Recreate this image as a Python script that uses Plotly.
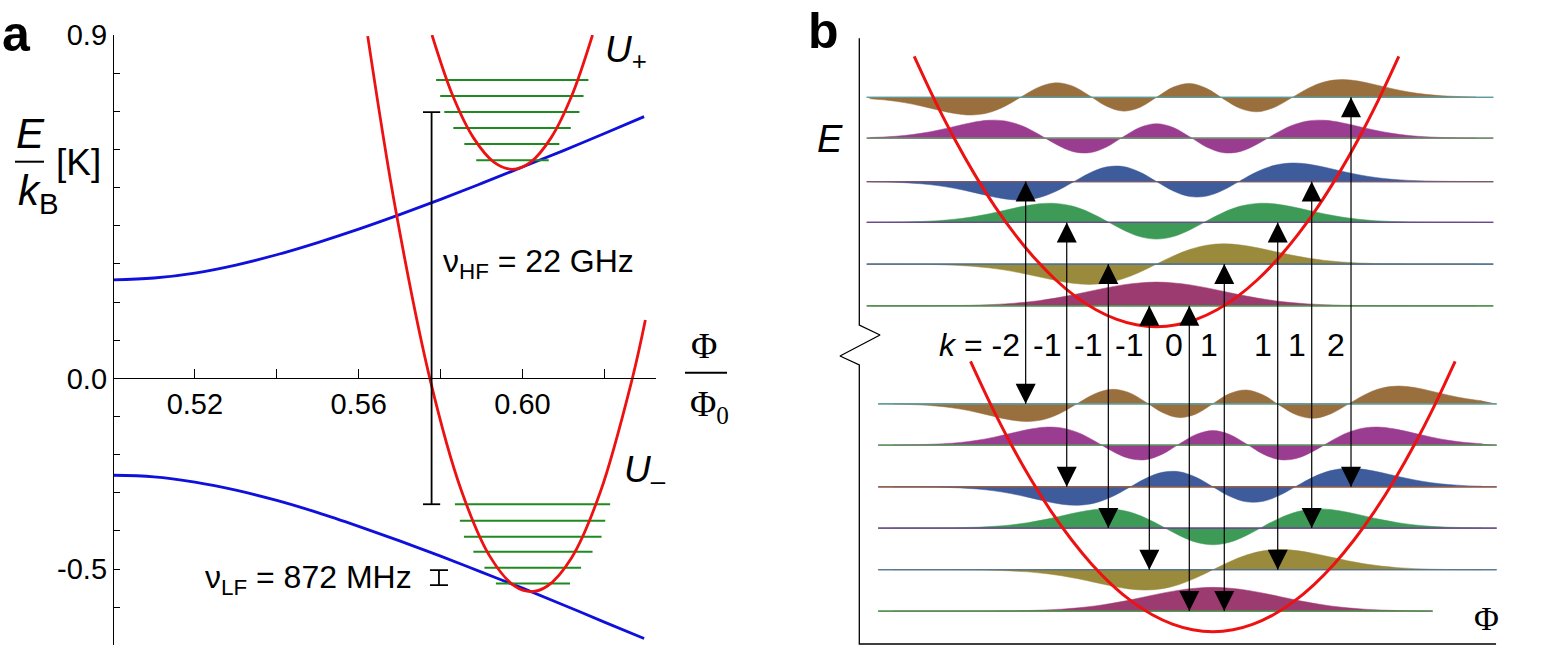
import plotly.graph_objects as go

# ================= Panel a : energy diagram =================
phi_blue = [0.50, 0.51, 0.52, 0.53, 0.54, 0.55, 0.56, 0.57, 0.58, 0.59, 0.60, 0.61, 0.62, 0.6297]
e_blue_upper = [0.258, 0.263, 0.276, 0.297, 0.324, 0.356, 0.391, 0.429, 0.469, 0.511, 0.554, 0.597, 0.642, 0.686]
e_blue_lower = [-0.254, -0.258, -0.272, -0.293, -0.320, -0.352, -0.388, -0.426, -0.466, -0.508, -0.550, -0.594, -0.639, -0.682]

phi_u_plus = [0.5779, 0.5830, 0.5880, 0.5930, 0.5975, 0.6020, 0.6070, 0.6120, 0.6171]
e_u_plus = [0.900, 0.740, 0.631, 0.567, 0.548, 0.567, 0.631, 0.740, 0.900]
phi_u_minus = [0.5622, 0.5690, 0.5775, 0.5850, 0.5920, 0.5980, 0.6021, 0.6060, 0.6120, 0.6190, 0.6268, 0.6300]
e_u_minus = [0.897, 0.443, -0.006, -0.292, -0.466, -0.544, -0.559, -0.545, -0.470, -0.298, -0.001, 0.153]

lev_plus_e = [0.572, 0.614, 0.656, 0.698, 0.740, 0.782]
lev_plus_left = [0.5887, 0.5858, 0.5831, 0.5809, 0.5799, 0.5789]
lev_plus_right = [0.6064, 0.6090, 0.6118, 0.6139, 0.6149, 0.6161]
lev_minus_e = [-0.538, -0.4965, -0.4545, -0.415, -0.373, -0.330]
lev_minus_left = [0.5935, 0.5907, 0.5880, 0.5857, 0.5847, 0.5835]
lev_minus_right = [0.6116, 0.6143, 0.6171, 0.6193, 0.6202, 0.6214]

hf_bar = {"phi": 0.5778, "e_low": -0.330, "e_high": 0.698}
lf_bar = {"phi": 0.5796, "e_low": -0.5418, "e_high": -0.5025}

x_major = [0.52, 0.56, 0.60]
x_minor = [0.54, 0.58, 0.62]
y_major = [-0.5, 0.0, 0.9]
y_minor = [-0.7, -0.6, -0.4, -0.3, -0.2, -0.1, 0.1, 0.2, 0.3, 0.4, 0.5, 0.6, 0.7, 0.8]

# ================= Panel b : wavefunctions =================
u_grid = [0, 0.25, 0.5, 0.75, 1.0, 1.25, 1.5, 1.75, 2.0, 2.25, 2.5, 2.75, 3.0, 3.25, 3.5, 3.75, 4.0, 4.25, 4.5, 4.75]
psi_amp = [
    [23.7, 22.9, 20.9, 17.9, 14.4, 10.8, 7.7, 5.1, 3.2, 1.9, 1.0, 0.5, 0.26, 0.12, 0.05, 0.02, 0, 0, 0, 0],
    [0, 8.11, 14.76, 18.94, 20.29, 19.15, 16.29, 12.66, 9.06, 5.99, 3.68, 2.10, 1.12, 0.55, 0.26, 0.11, 0.05, 0.02, 0, 0],
    [-16.73, -14.19, -7.38, 1.58, 10.15, 16.28, 19.01, 18.55, 15.85, 12.15, 8.45, 5.39, 3.16, 1.71, 0.86, 0.40, 0.17, 0.07, 0.03, 0],
    [0, -9.52, -15.07, -14.50, -8.29, 0.98, 9.98, 16.16, 18.49, 17.42, 14.26, 10.38, 6.83, 4.09, 2.25, 1.14, 0.53, 0.23, 0.09, 0.03],
    [14.49, 10.61, 1.07, -9.06, -14.65, -13.23, -5.88, 3.93, 12.42, 17.20, 17.88, 15.52, 11.75, 7.92, 4.82, 2.67, 1.35, 0.63, 0.27, 0.11],
    [0, 10.19, 13.82, 8.67, -1.85, -11.33, -14.50, -10.10, -0.83, 8.89, 15.52, 17.71, 16.19, 12.62, 8.66, 5.31, 2.94, 1.49, 0.69, 0.29],
]
upper_levels = [8.11, 9.11, 10.11, 11.09, 12.13, 13.11]
lower_levels = [0.79, 1.78, 2.78, 3.77, 4.77, 5.76]
upper_center = 4.416
lower_center = 5.253
upper_well_min = 7.61
lower_well_min = 0.295

pot_u = [-3.6, -3.3, -3.0, -2.7, -2.4, -2.1, -1.8, -1.5, -1.2, -0.9, -0.6, -0.3, 0.0,
         0.3, 0.6, 0.9, 1.2, 1.5, 1.8, 2.1, 2.4, 2.7, 3.0, 3.3, 3.6]
pot_e = [6.48, 5.445, 4.5, 3.645, 2.88, 2.205, 1.62, 1.125, 0.72, 0.405, 0.18, 0.045, 0.0,
         0.045, 0.18, 0.405, 0.72, 1.125, 1.62, 2.205, 2.88, 3.645, 4.5, 5.445, 6.48]

arrow_x = [2.472, 3.082, 3.700, 4.309, 4.903, 5.423, 6.217, 6.722, 7.306]
arrow_up_n = [3, 2, 1, 0, 0, 1, 2, 3, 5]
arrow_down_n = [5, 3, 2, 1, 0, 0, 1, 2, 3]
k_values = ["-2", "-1", "-1", "-1", "0", "1", "1", "1", "2"]

fill_colors = ["#9b3b6f", "#9a8a3c", "#3d9b57", "#3e5b9c", "#9a3d91", "#9a6f3e"]
base_colors_upper = ["#4f8f4f", "#4f7090", "#6a4a8a", "#7a5a6a", "#6f8a6a", "#5e9a9a"]
base_colors_lower = ["#4f8f4f", "#4f7090", "#6a4a8a", "#8a5a4a", "#5f8f5f", "#5e9a9a"]

# ---------- styles / geometry ----------
FONT = "Liberation Sans, Arial, sans-serif"
SERIF = "Liberation Serif, Times New Roman, serif"
RED = "#ee1111"
BLUE = "#1010dd"
GREEN = "#1f8a1f"
amp_scale = 1 / 41.7
W, H = 1561, 655


def pxx(xp):
    return xp / W


def pxy(yp):
    return 1 - yp / H


fig = go.Figure()

# ---- panel a traces ----
fig.add_trace(go.Scatter(x=phi_blue, y=e_blue_upper, mode="lines", line=dict(color=BLUE, width=2.8, shape="spline"), xaxis="x", yaxis="y"))
fig.add_trace(go.Scatter(x=phi_blue, y=e_blue_lower, mode="lines", line=dict(color=BLUE, width=2.8, shape="spline"), xaxis="x", yaxis="y"))

gx, gy = [], []
for e, a, b in zip(lev_plus_e, lev_plus_left, lev_plus_right):
    gx += [a, b, None]
    gy += [e, e, None]
for e, a, b in zip(lev_minus_e, lev_minus_left, lev_minus_right):
    gx += [a, b, None]
    gy += [e, e, None]
fig.add_trace(go.Scatter(x=gx, y=gy, mode="lines", line=dict(color=GREEN, width=2), xaxis="x", yaxis="y"))

fig.add_trace(go.Scatter(x=phi_u_plus, y=e_u_plus, mode="lines", line=dict(color=RED, width=2.8, shape="spline"), xaxis="x", yaxis="y"))
fig.add_trace(go.Scatter(x=phi_u_minus, y=e_u_minus, mode="lines", line=dict(color=RED, width=2.8, shape="spline"), xaxis="x", yaxis="y"))


def ibar(bar, half):
    p = bar["phi"]
    return ([p - half, p + half, None, p, p, None, p - half, p + half],
            [bar["e_high"], bar["e_high"], None, bar["e_high"], bar["e_low"], None, bar["e_low"], bar["e_low"]])


bx, by = ibar(hf_bar, 0.0021)
fig.add_trace(go.Scatter(x=bx, y=by, mode="lines", line=dict(color="black", width=1.8), xaxis="x", yaxis="y", cliponaxis=False))
bx, by = ibar(lf_bar, 0.0022)
fig.add_trace(go.Scatter(x=bx, y=by, mode="lines", line=dict(color="black", width=1.8), xaxis="x", yaxis="y", cliponaxis=False))

# ---- panel b traces ----
full_u = [-u for u in u_grid[::-1][:-1]] + u_grid
stacks = [
    (upper_center, upper_levels, 0.11, [9.42] * 6, base_colors_upper),
    (lower_center, lower_levels, 0.28, [8.52, 9.47, 9.47, 9.47, 9.47, 9.47], base_colors_lower),
]
overlay = []
for center, levels, x0, x1s, bcols in stacks:
    for n in range(6):
        sign = -1 if n % 2 else 1
        full_a = [sign * a for a in psi_amp[n][::-1][:-1]] + psi_amp[n]
        xs, ys = [], []
        for u, a in zip(full_u, full_a):
            X = center + u
            if x0 <= X <= x1s[n]:
                xs.append(X)
                ys.append(levels[n] + a * amp_scale)
        fig.add_trace(go.Scatter(x=[x0, x1s[n]], y=[levels[n], levels[n]], mode="lines",
                                 line=dict(color=bcols[n], width=1.2), xaxis="x2", yaxis="y2"))
        fig.add_trace(go.Scatter(x=xs, y=ys, mode="lines", fill="tonexty", fillcolor=fill_colors[n],
                                 line=dict(color=fill_colors[n], width=0.5, shape="spline", smoothing=1),
                                 xaxis="x2", yaxis="y2"))
        overlay.append((x0, x1s[n], levels[n], bcols[n]))

for x0, x1, lv, c in overlay:
    fig.add_trace(go.Scatter(x=[x0, x1], y=[lv, lv], mode="lines", line=dict(color=c, width=1.2), xaxis="x2", yaxis="y2"))

for center, emin in [(upper_center, upper_well_min), (lower_center, lower_well_min)]:
    fig.add_trace(go.Scatter(x=[center + u for u in pot_u], y=[emin + e for e in pot_e], mode="lines",
                             line=dict(color=RED, width=3, shape="spline"), xaxis="x2", yaxis="y2"))

# broken axis of panel b
axis_path_x = [0, 0, 0.308, -0.287, 0, 0, 9.461]
axis_path_y = [14.525, 7.650, 7.410, 6.906, 6.691, 0, 0]
fig.add_trace(go.Scatter(x=axis_path_x, y=axis_path_y, mode="lines", line=dict(color="black", width=1.3),
                         xaxis="x2", yaxis="y2", cliponaxis=False))

# transition arrows: shafts + heads
sx, sy = [], []
for xa, nu, nd in zip(arrow_x, arrow_up_n, arrow_down_n):
    sx += [xa, xa, None]
    sy += [lower_levels[nd], upper_levels[nu], None]
fig.add_trace(go.Scatter(x=sx, y=sy, mode="lines", line=dict(color="black", width=1.2), xaxis="x2", yaxis="y2"))
fig.add_trace(go.Scatter(x=arrow_x, y=[upper_levels[n] for n in arrow_up_n], mode="markers",
                         marker=dict(symbol="arrow-up", size=20, color="black", line=dict(width=0)),
                         xaxis="x2", yaxis="y2"))
fig.add_trace(go.Scatter(x=arrow_x, y=[lower_levels[n] for n in arrow_down_n], mode="markers",
                         marker=dict(symbol="arrow-down", size=20, color="black", line=dict(width=0)),
                         xaxis="x2", yaxis="y2"))

k_row_y = 7.17
for i, (xa, kv) in enumerate(zip(arrow_x, k_values)):
    txt = ("<i>k</i> = " + kv) if i == 0 else kv
    fig.add_annotation(x=xa - 0.06, y=k_row_y, xref="x2", yref="y2", text=txt, showarrow=False,
                       xanchor="right", yanchor="middle", font=dict(family=FONT, size=32, color="black"))

# ---- panel a annotations ----
ann_font = dict(family=FONT, size=32, color="black")
fig.add_annotation(x=0.5801, y=0.30, xref="x", yref="y", text="ν<sub>HF</sub> = 22 GHz", showarrow=False,
                   xanchor="left", yanchor="middle", font=ann_font)
fig.add_annotation(x=0.5220, y=-0.528, xref="x", yref="y", text="ν<sub>LF</sub> = 872 MHz", showarrow=False,
                   xanchor="left", yanchor="middle", font=ann_font)
fig.add_annotation(x=0.6197, y=0.855, xref="x", yref="y", text="<i>U</i><sub>+</sub>", showarrow=False,
                   xanchor="left", yanchor="middle", font=dict(family=FONT, size=37, color="black"))
fig.add_annotation(x=0.6242, y=-0.245, xref="x", yref="y", text="<i>U</i><sub>–</sub>", showarrow=False,
                   xanchor="left", yanchor="middle", font=dict(family=FONT, size=37, color="black"))

# axis label Phi/Phi0 (paper coordinates, outside the axis range)
fig.add_annotation(x=pxx(704), y=pxy(346), xref="paper", yref="paper", text="Φ", showarrow=False,
                   xanchor="center", yanchor="middle", font=dict(family=SERIF, size=36, color="black"))
fig.add_annotation(x=pxx(709), y=pxy(407), xref="paper", yref="paper", text="Φ<sub>0</sub>", showarrow=False,
                   xanchor="center", yanchor="middle", font=dict(family=SERIF, size=36, color="black"))
fig.add_shape(type="line", x0=pxx(685), x1=pxx(727), y0=pxy(372.7), y1=pxy(372.7), xref="paper", yref="paper",
              line=dict(color="black", width=2))
# axis label E/kB [K]
fig.add_annotation(x=pxx(30), y=pxy(134), xref="paper", yref="paper", text="<i>E</i>", showarrow=False,
                   xanchor="center", yanchor="middle", font=dict(family=FONT, size=42, color="black"))
fig.add_shape(type="line", x0=pxx(15), x1=pxx(44), y0=pxy(161.7), y1=pxy(161.7), xref="paper", yref="paper",
              line=dict(color="black", width=2))
fig.add_annotation(x=pxx(16), y=pxy(193), xref="paper", yref="paper", text="<i>k</i><sub>B</sub>", showarrow=False,
                   xanchor="left", yanchor="middle", font=dict(family=FONT, size=42, color="black"))
fig.add_annotation(x=pxx(78), y=pxy(163), xref="paper", yref="paper", text="[K]", showarrow=False,
                   xanchor="center", yanchor="middle", font=dict(family=FONT, size=37, color="black"))

# ---- panel b labels ----
fig.add_annotation(x=-0.435, y=12.11, xref="x2", yref="y2", text="<i>E</i>", showarrow=False,
                   xanchor="center", yanchor="middle", font=dict(family=FONT, size=38, color="black"))
fig.add_annotation(x=9.319, y=0.62, xref="x2", yref="y2", text="Φ", showarrow=False,
                   xanchor="center", yanchor="middle", font=dict(family=SERIF, size=34, color="black"))

# panel letters
fig.add_annotation(x=pxx(0), y=pxy(34), xref="paper", yref="paper", text="<b>a</b>", showarrow=False,
                   xanchor="left", yanchor="middle", font=dict(family=FONT, size=50, color="black"))
fig.add_annotation(x=pxx(806), y=pxy(31), xref="paper", yref="paper", text="<b>b</b>", showarrow=False,
                   xanchor="left", yanchor="middle", font=dict(family=FONT, size=50, color="black"))

tick_font = dict(family=FONT, size=29, color="black")
fig.update_layout(
    width=W, height=H, margin=dict(l=0, r=0, t=0, b=0, autoexpand=False),
    paper_bgcolor="white", plot_bgcolor="white", showlegend=False,
    xaxis=dict(domain=[113 / W, 656 / W], range=[0.5, 0.6326], anchor="free", position=0.42237,
               showline=True, linecolor="black", linewidth=1.3, ticks="inside", ticklen=9, tickwidth=1.2,
               tickcolor="black", tickmode="array", tickvals=x_major, ticktext=["0.52", "0.56", "0.60"],
               tickfont=tick_font,
               minor=dict(tickmode="array", tickvals=x_minor, ticks="inside", ticklen=9, tickwidth=1.2,
                          tickcolor="black", showgrid=False),
               showgrid=False, zeroline=False, automargin=False),
    yaxis=dict(domain=[1 - 645.4 / H, 1 - 35 / H], range=[-0.7, 0.9], anchor="free", position=113 / W,
               showline=True, linecolor="black", linewidth=1.3, ticks="inside", ticklen=6, tickwidth=1.2,
               tickcolor="black", tickmode="array", tickvals=y_major, ticktext=["-0.5", "0.0", "0.9"],
               tickfont=tick_font,
               minor=dict(tickmode="array", tickvals=y_minor, ticks="inside", ticklen=6, tickwidth=1.2,
                          tickcolor="black", showgrid=False),
               showgrid=False, zeroline=False, automargin=False),
    xaxis2=dict(domain=[(859.3 - 0.5 * 67.3) / W, 1.0], range=[-0.5, 10.426], anchor="y2", visible=False,
                automargin=False),
    yaxis2=dict(domain=[0, 1], range=[-0.264, 15.443], anchor="x2", visible=False, automargin=False),
)

fig.write_html("out.html", config={"displayModeBar": False},
               post_script="document.body.style.margin='0';document.body.style.overflow='hidden';")
